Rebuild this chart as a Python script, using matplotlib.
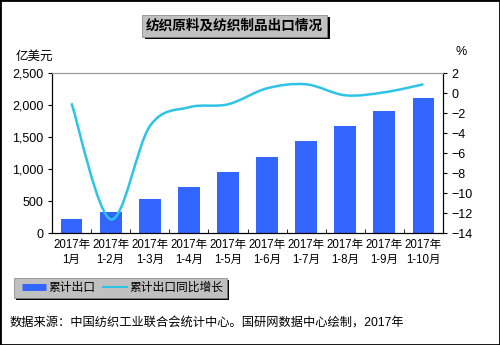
import numpy as np
import matplotlib
matplotlib.use("Agg")
import matplotlib.pyplot as plt
from matplotlib.patches import Rectangle, PathPatch
from matplotlib.path import Path
from matplotlib.lines import Line2D

plt.rcParams['font.family'] = ['Liberation Sans', 'Noto Sans CJK SC', 'DejaVu Sans']

months = ['2017年\n1月', '2017年\n1-2月', '2017年\n1-3月', '2017年\n1-4月', '2017年\n1-5月',
          '2017年\n1-6月', '2017年\n1-7月', '2017年\n1-8月', '2017年\n1-9月', '2017年\n1-10月']
export_total = [222, 327, 529, 731, 958, 1191, 1435, 1684, 1913, 2115]   # 亿美元
export_growth = [-1.0, -12.6, -3.3, -1.4, -1.1, 0.5, 0.9, -0.2, 0.1, 0.9]  # %

bar_color = '#3366FF'
line_color = '#2EC4E6'


def smooth_path(xs, ys):
    # bezier segments with catmull-rom style control points (like excel "smoothed line")
    pts = np.column_stack([xs, ys]).astype(float)
    n = len(pts)
    verts = [pts[0]]
    codes = [Path.MOVETO]
    for i in range(n - 1):
        p0 = pts[i - 1] if i > 0 else pts[i]
        p1 = pts[i]
        p2 = pts[i + 1]
        p3 = pts[i + 2] if i + 2 < n else pts[i + 1]
        c1 = p1 + (p2 - p0) / 6.0
        c2 = p2 - (p3 - p1) / 6.0
        verts += [c1, c2, p2]
        codes += [Path.CURVE4] * 3
    return Path(verts, codes)


fig = plt.figure(figsize=(5, 3.45), dpi=100)
ax = fig.add_axes([0.104, 0.3238, 0.782, 0.4637])
x = np.arange(len(months))

ax.bar(x, export_total, width=0.56, color=bar_color, zorder=2)
ax.set_xlim(-0.5, len(months) - 0.5)
ax.set_ylim(0, 2500)
ax.set_yticks(range(0, 2501, 500))
ax.set_yticklabels([f'{v:,}' for v in range(0, 2501, 500)])
ax.set_xticks(x)
ax.set_xticklabels(months, fontsize=8.3, linespacing=1.3)
ax.set_xticks(np.arange(0.5, len(months) - 1, 1), minor=True)
ax.tick_params(axis='x', which='major', length=0, pad=4)
ax.tick_params(axis='x', which='minor', length=3, direction='in')
ax.tick_params(axis='y', length=3, direction='out', labelsize=9, pad=3)
for side in ['left', 'bottom', 'right']:
    ax.spines[side].set_color('black')
ax.spines['top'].set_color('#999999')

ax2 = ax.twinx()
ax2.set_ylim(-14, 2)
ax2.set_yticks(range(-14, 3, 2))
ax2.tick_params(axis='y', length=3, direction='out', labelsize=9, pad=3)
ax2.spines['top'].set_color('#999999')
ax2.add_patch(PathPatch(smooth_path(x, export_growth), fill=False,
                        edgecolor=line_color, lw=1.8, zorder=3))

fig.text(0.032, 0.835, '亿美元', fontsize=9, va='center', ha='left')
fig.text(0.912, 0.85, '%', fontsize=9, va='center', ha='left')

# title box with shadow
W, H = 500.0, 345.0
fig.patches.append(Rectangle((145 / W, 1 - 39 / H), 185 / W, 22 / H, transform=fig.transFigure,
                             facecolor='black', edgecolor='none', zorder=0))
fig.patches.append(Rectangle((142 / W, 1 - 37 / H), 185 / W, 22 / H, transform=fig.transFigure,
                             facecolor='#C0C0C0', edgecolor='#808080', lw=0.5, zorder=1))
fig.text(234.5 / W, 1 - 26 / H, '纺织原料及纺织制品出口情况', fontsize=9.8, fontweight='bold',
         ha='center', va='center', zorder=2)

# legend box with shadow
fig.patches.append(Rectangle((16 / W, 1 - 300 / H), 213 / W, 20 / H, transform=fig.transFigure,
                             facecolor='black', edgecolor='none', zorder=0))
fig.patches.append(Rectangle((14 / W, 1 - 298 / H), 213 / W, 20 / H, transform=fig.transFigure,
                             facecolor='#C0C0C0', edgecolor='#808080', lw=0.5, zorder=1))
handles = [Line2D([], [], color=bar_color, lw=5, solid_capstyle='butt'),
           Line2D([], [], color=line_color, lw=1.5)]
fig.legend(handles, ['累计出口', '累计出口同比增长'], loc='center left',
           bbox_to_anchor=(22 / W, 1 - 288 / H), ncol=2, frameon=False, fontsize=8.5,
           handlelength=2.0, handletextpad=0.2, columnspacing=0.7, borderaxespad=0,
           borderpad=0)

fig.text(10 / W, 1 - 324 / H, '数据来源：中国纺织工业联合会统计中心。国研网数据中心绘制，2017年',
         fontsize=8.8, ha='left', va='center')

fig.patches.append(Rectangle((0, 0), 1, 1, transform=fig.transFigure, fill=False,
                             edgecolor='black', lw=2))

fig.savefig('out.png', dpi=100)
